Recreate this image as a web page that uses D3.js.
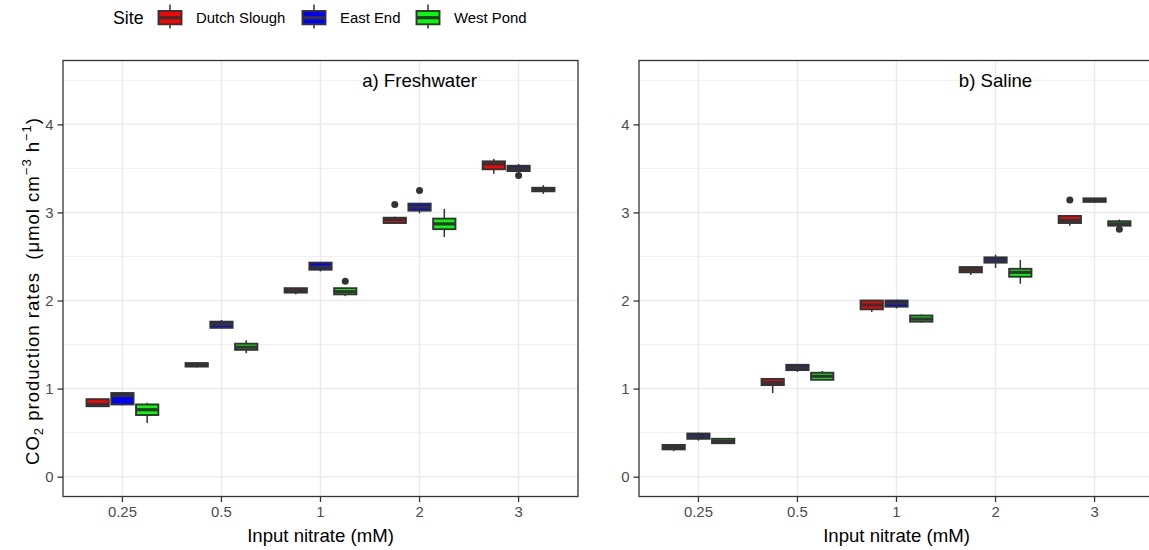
<!DOCTYPE html>
<html>
<head>
<meta charset="utf-8">
<script src="https://cdn.jsdelivr.net/npm/d3@7"></script>
<style>
  body { margin: 0; background: #fff; }
  svg { display: block; font-family: "Liberation Sans", Arial, sans-serif; }
</style>
</head>
<body>
<svg id="chart" width="1149" height="550"></svg>
<script>
// Input nitrate levels (x categories) and sites (dodged groups)
const categories = ["0.25", "0.5", "1", "2", "3"];
const sites = ["Dutch Slough", "East End", "West Pond"];
const siteColors = ["#FF0000", "#0000FF", "#00FF00"];
const yTicks = [0, 1, 2, 3, 4];

// Box summaries per category: [lower whisker, Q1, median, Q3, upper whisker]
const freshDutchSlough = [[0.79, 0.80, 0.82, 0.88, 0.88], [1.24, 1.25, 1.27, 1.29, 1.30], [2.07, 2.09, 2.11, 2.14, 2.14], [2.87, 2.88, 2.92, 2.94, 2.95], [3.44, 3.49, 3.55, 3.58, 3.61]];
const freshEastEnd     = [[0.81, 0.82, 0.92, 0.95, 0.96], [1.69, 1.69, 1.73, 1.76, 1.78], [2.33, 2.35, 2.38, 2.43, 2.43], [2.99, 3.02, 3.06, 3.10, 3.10], [3.46, 3.47, 3.50, 3.53, 3.55]];
const freshWestPond    = [[0.61, 0.70, 0.76, 0.82, 0.84], [1.40, 1.44, 1.47, 1.51, 1.55], [2.05, 2.07, 2.10, 2.14, 2.14], [2.72, 2.81, 2.87, 2.93, 3.04], [3.21, 3.24, 3.26, 3.28, 3.31]];
const salineDutchSlough = [[0.29, 0.31, 0.33, 0.36, 0.36], [0.95, 1.04, 1.07, 1.11, 1.11], [1.87, 1.90, 1.95, 2.00, 2.00], [2.29, 2.32, 2.35, 2.38, 2.38], [2.85, 2.88, 2.91, 2.96, 2.96]];
const salineEastEnd     = [[0.41, 0.43, 0.46, 0.49, 0.50], [1.19, 1.21, 1.24, 1.27, 1.27], [1.91, 1.93, 1.97, 2.00, 2.01], [2.37, 2.43, 2.46, 2.49, 2.52], [3.11, 3.12, 3.14, 3.16, 3.16]];
const salineWestPond    = [[0.37, 0.38, 0.40, 0.43, 0.43], [1.10, 1.10, 1.14, 1.18, 1.20], [1.75, 1.76, 1.79, 1.83, 1.84], [2.19, 2.27, 2.32, 2.36, 2.46], [2.84, 2.85, 2.87, 2.90, 2.92]];

// Outliers: [category, site, value]
const freshOutliers  = [["1", "West Pond", 2.22], ["2", "Dutch Slough", 3.09], ["2", "East End", 3.25], ["3", "East End", 3.42]];
const salineOutliers = [["3", "Dutch Slough", 3.14], ["3", "West Pond", 2.81]];

const panels = [
  { title: "a) Freshwater", series: [freshDutchSlough, freshEastEnd, freshWestPond], outliers: freshOutliers, x0: 63, x1: 578, yTitle: true },
  { title: "b) Saline", series: [salineDutchSlough, salineEastEnd, salineWestPond], outliers: salineOutliers, x0: 639, x1: 1154, yTitle: false }
];

const svg = d3.select("#chart");
const plotTop = 60.5, plotBottom = 496.5;
const dark = "#333333";
const tickGrey = "#4D4D4D";
const boxStroke = 1.9, medianStroke = 3.2, whiskerStroke = 1.5;
const color = d3.scaleOrdinal().domain(sites).range(siteColors);

const y = d3.scaleLinear().domain([-0.225, 4.725]).range([plotBottom, plotTop]);

panels.forEach(p => {
  const g = svg.append("g");
  // discrete axis: 0.6 category units of padding on each side
  const x = d3.scaleBand().domain(categories).range([p.x0, p.x1]).paddingInner(0).paddingOuter(0.1);
  const unit = x.step();
  const cx = c => x(c) + x.bandwidth() / 2;
  const dodge = d3.scalePoint().domain(sites).range([-0.25 * unit, 0.25 * unit]);
  const boxW = 0.225 * unit;

  // grid
  const minor = [0.5, 1.5, 2.5, 3.5, 4.5];
  g.selectAll(".minor").data(minor).join("line")
    .attr("x1", p.x0).attr("x2", p.x1).attr("y1", d => y(d)).attr("y2", d => y(d))
    .attr("stroke", "#EBEBEB").attr("stroke-width", 0.8);
  g.selectAll(".majorY").data(yTicks).join("line")
    .attr("x1", p.x0).attr("x2", p.x1).attr("y1", d => y(d)).attr("y2", d => y(d))
    .attr("stroke", "#EBEBEB").attr("stroke-width", 1.5);
  g.selectAll(".majorX").data(categories).join("line")
    .attr("x1", d => cx(d)).attr("x2", d => cx(d)).attr("y1", plotTop).attr("y2", plotBottom)
    .attr("stroke", "#EBEBEB").attr("stroke-width", 1.5);

  // boxes
  const boxes = [];
  p.series.forEach((arr, si) => arr.forEach((v, ci) => boxes.push({ site: sites[si], cat: categories[ci], v })));
  const bg = g.selectAll(".box").data(boxes).join("g");
  bg.append("line")
    .attr("x1", d => cx(d.cat) + dodge(d.site)).attr("x2", d => cx(d.cat) + dodge(d.site))
    .attr("y1", d => y(d.v[0])).attr("y2", d => y(d.v[4]))
    .attr("stroke", dark).attr("stroke-width", whiskerStroke);
  bg.append("rect")
    .attr("x", d => cx(d.cat) + dodge(d.site) - boxW / 2).attr("width", boxW)
    .attr("y", d => y(d.v[3])).attr("height", d => y(d.v[1]) - y(d.v[3]))
    .attr("fill", d => color(d.site)).attr("stroke", dark).attr("stroke-width", boxStroke);
  bg.append("line")
    .attr("x1", d => cx(d.cat) + dodge(d.site) - boxW / 2).attr("x2", d => cx(d.cat) + dodge(d.site) + boxW / 2)
    .attr("y1", d => y(d.v[2])).attr("y2", d => y(d.v[2]))
    .attr("stroke", dark).attr("stroke-width", medianStroke);
  g.selectAll(".out").data(p.outliers).join("circle")
    .attr("cx", d => cx(d[0]) + dodge(d[1])).attr("cy", d => y(d[2])).attr("r", 3.5)
    .attr("fill", dark);

  // panel label
  g.append("text").attr("x", cx("2")).attr("y", y(4.5)).attr("dy", "0.35em")
    .attr("text-anchor", "middle").attr("font-size", 18.6).attr("fill", "#000").text(p.title);

  // border
  g.append("rect").attr("x", p.x0).attr("y", plotTop).attr("width", p.x1 - p.x0).attr("height", plotBottom - plotTop)
    .attr("fill", "none").attr("stroke", dark).attr("stroke-width", 1.3);

  // axes
  const yAxis = d3.axisLeft(y).tickValues(yTicks).tickFormat(d3.format("d")).tickSize(5.5).tickPadding(4);
  const ya = g.append("g").attr("transform", `translate(${p.x0},0)`).call(yAxis);
  const xAxis = d3.axisBottom(x).tickSize(5.5).tickPadding(4);
  const xa = g.append("g").attr("transform", `translate(0,${plotBottom})`).call(xAxis);
  [ya, xa].forEach(a => {
    a.select(".domain").remove();
    a.selectAll(".tick line").attr("stroke", dark).attr("stroke-width", 1.3);
    a.selectAll(".tick text").attr("fill", tickGrey).attr("font-size", 14.9).attr("font-family", "Liberation Sans, Arial, sans-serif");
  });

  g.append("text").attr("x", (p.x0 + p.x1) / 2).attr("y", 542).attr("text-anchor", "middle")
    .attr("font-size", 18.6).attr("fill", "#000").text("Input nitrate (mM)");

  if (p.yTitle) {
    const t = g.append("text").attr("transform", "translate(39,291.5) rotate(-90)")
      .attr("text-anchor", "middle").attr("font-size", 18.6).attr("fill", "#000")
      .style("white-space", "pre")
      .attr("textLength", 347).attr("lengthAdjust", "spacing");
    t.append("tspan").text("CO");
    t.append("tspan").attr("font-size", 13).attr("dy", 4).text("2");
    t.append("tspan").attr("dy", -4).text(" production rates  (μmol cm");
    t.append("tspan").attr("font-size", 13).attr("dy", -8).text("−3");
    t.append("tspan").attr("dy", 8).text(" h");
    t.append("tspan").attr("font-size", 13).attr("dy", -8).text("−1");
    t.append("tspan").attr("dy", 8).text(")");
  }
});

// legend
const lg = svg.append("g");
lg.append("text").attr("x", 113).attr("y", 24).attr("font-size", 17.8).attr("fill", "#000").text("Site");
const legendX = [158, 302, 416];
sites.forEach((s, i) => {
  const k = lg.append("g").attr("transform", `translate(${legendX[i]},0)`);
  k.append("line").attr("x1", 12).attr("x2", 12).attr("y1", 4.5).attr("y2", 28.5).attr("stroke", dark).attr("stroke-width", whiskerStroke);
  k.append("rect").attr("x", 0.5).attr("y", 11).attr("width", 23).attr("height", 13.3)
    .attr("fill", color(s)).attr("stroke", dark).attr("stroke-width", boxStroke);
  k.append("line").attr("x1", 0.5).attr("x2", 23.5).attr("y1", 17.7).attr("y2", 17.7).attr("stroke", dark).attr("stroke-width", medianStroke);
  k.append("text").attr("x", 38).attr("y", 23).attr("font-size", 14.9).attr("fill", "#000").text(s);
});
</script>
</body>
</html>
